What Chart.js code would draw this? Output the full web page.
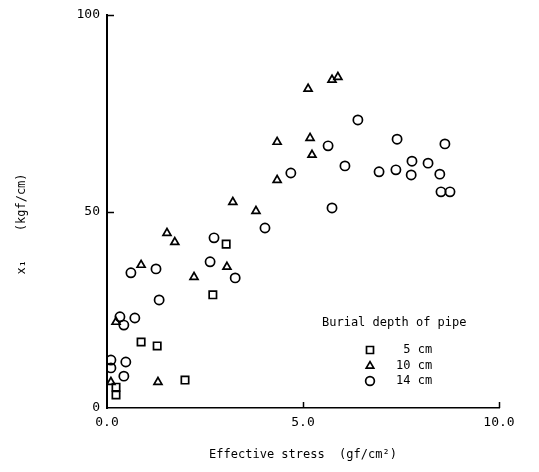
<!DOCTYPE html>
<html><head><meta charset="utf-8">
<script src="https://cdn.jsdelivr.net/npm/chart.js@4.4.1/dist/chart.umd.min.js"></script>
<style>html,body{margin:0;padding:0;background:#fff}</style>
</head><body>
<canvas id="c" width="539" height="472" style="width:539px;height:472px;display:block"></canvas>
<script>
// ---- data ----
const seriesLabels = ['5 cm', '10 cm', '14 cm'];
const legendTitle = 'Burial depth of pipe';
const xTitle = 'Effective stress  (gf/cm\u00B2)';
const yTitle = 'x\u2081    (kgf/cm)';
const xTickValues = [0, 5, 10];
const yTickValues = [0, 50, 100];

const stress5 = [0.23, 0.23, 0.87, 1.28, 1.99, 2.70, 3.04];
const x1_5    = [5.3, 3.3, 16.8, 15.8, 7.1, 28.8, 41.7];

const stress10 = [0.10, 0.23, 0.87, 1.30, 1.53, 1.73, 2.22, 3.06, 3.21, 3.80, 4.34, 4.34, 5.13, 5.18, 5.23, 5.74, 5.89];
const x1_10    = [6.6, 21.9, 36.4, 6.6, 44.5, 42.2, 33.3, 35.9, 52.4, 50.1, 58.0, 67.7, 81.2, 68.7, 64.4, 83.5, 84.2];

const stress14 = [0.10, 0.10, 0.48, 0.43, 0.33, 0.43, 0.71, 0.61, 1.25, 1.33, 2.63, 2.73, 3.27, 4.03, 4.69, 5.64, 5.74, 6.07, 6.40, 6.94, 7.37, 7.40, 7.78, 7.76, 8.19, 8.49, 8.62, 8.52, 8.75];
const x1_14    = [12.2, 10.2, 11.7, 8.1, 23.2, 21.1, 22.9, 34.4, 35.4, 27.5, 37.2, 43.3, 33.1, 45.8, 59.8, 66.7, 50.9, 61.6, 73.3, 60.1, 60.6, 68.4, 62.8, 59.3, 62.3, 59.5, 67.2, 55.0, 55.0];

const FONT = "'DejaVu Sans Mono', 'Liberation Mono', monospace";
const toPts = (xs, ys) => xs.map((x, i) => ({x: x, y: ys[i]}));

const styles = [
  {pointStyle: 'rect', pointRadius: 5.2},
  {pointStyle: 'triangle', pointRadius: 4.6},
  {pointStyle: 'circle', pointRadius: 4.6}
];
const seriesData = [toPts(stress5, x1_5), toPts(stress10, x1_10), toPts(stress14, x1_14)];

const datasets = seriesData.map((d, i) => ({
  label: seriesLabels[i],
  data: d,
  pointStyle: styles[i].pointStyle,
  pointRadius: styles[i].pointRadius,
  pointHoverRadius: styles[i].pointRadius,
  pointBorderWidth: 1.7,
  pointBorderColor: '#000',
  pointBackgroundColor: 'rgba(0,0,0,0)',
  showLine: false
}));

const extras = {
  id: 'extras',
  afterDraw(chart) {
    const ctx = chart.ctx;
    const xs = chart.scales.x, ys = chart.scales.y;
    const area = chart.chartArea;
    ctx.save();
    ctx.strokeStyle = '#000';
    ctx.lineWidth = 1.5;
    // inward tick marks
    yTickValues.filter(v => v > 0).forEach(v => {
      const py = Math.round(ys.getPixelForValue(v)) + 0.5;
      ctx.beginPath(); ctx.moveTo(area.left, py); ctx.lineTo(area.left + 7, py); ctx.stroke();
    });
    xTickValues.filter(v => v > 0).forEach(v => {
      const px = Math.round(xs.getPixelForValue(v)) + 0.5;
      ctx.beginPath(); ctx.moveTo(px, area.bottom); ctx.lineTo(px, area.bottom - 6); ctx.stroke();
    });
    // y title
    ctx.fillStyle = '#000';
    ctx.font = '12px ' + FONT;
    ctx.textAlign = 'center';
    ctx.textBaseline = 'middle';
    ctx.translate(22, 224);
    ctx.rotate(-Math.PI / 2);
    ctx.fillText(yTitle, 0, 0);
    ctx.restore();

    // legend
    ctx.save();
    ctx.font = '12px ' + FONT;
    ctx.textBaseline = 'middle';
    ctx.textAlign = 'left';
    ctx.fillStyle = '#000';
    ctx.fillText(legendTitle, 322, 323);
    const rowsY = [350, 366, 381];
    const labelsPadded = [' 5 cm', '10 cm', '14 cm'];
    datasets.forEach((ds, i) => {
      ctx.strokeStyle = '#000';
      ctx.lineWidth = 1.7;
      ctx.fillStyle = 'rgba(0,0,0,0)';
      Chart.helpers.drawPoint(ctx, {pointStyle: ds.pointStyle, radius: ds.pointRadius * 0.95, borderWidth: 1.7, rotation: 0}, 370, rowsY[i]);
      ctx.fillStyle = '#000';
      ctx.fillText(labelsPadded[i], 396, rowsY[i]);
    });
    ctx.restore();
  }
};

new Chart(document.getElementById('c'), {
  type: 'scatter',
  data: {datasets: datasets},
  options: {
    responsive: false,
    animation: false,
    layout: {padding: {left: 0, right: 40, top: 15, bottom: 0}},
    plugins: {legend: {display: false}, tooltip: {enabled: false}},
    scales: {
      x: {
        type: 'linear', min: 0, max: 10,
        afterBuildTicks: s => { s.ticks = xTickValues.map(v => ({value: v})); },
        afterFit: s => { s.height = 64; },
        grid: {display: false, drawTicks: false},
        border: {display: true, color: '#000', width: 1.6},
        ticks: {color: '#000', padding: 7, maxRotation: 0, font: {family: FONT, size: 13},
          callback: v => Number(v).toFixed(1)},
        title: {display: true, text: xTitle, color: '#000', font: {family: FONT, size: 12},
          padding: {top: 0, bottom: 10}}
      },
      y: {
        type: 'linear', min: 0, max: 100,
        afterBuildTicks: s => { s.ticks = yTickValues.map(v => ({value: v})); },
        afterFit: s => { s.width = 107; },
        grid: {display: false, drawTicks: false},
        border: {display: true, color: '#000', width: 2},
        ticks: {color: '#000', padding: 7, font: {family: FONT, size: 13},
          callback: v => String(v)}
      }
    }
  },
  plugins: [extras]
});
</script>
</body></html>
